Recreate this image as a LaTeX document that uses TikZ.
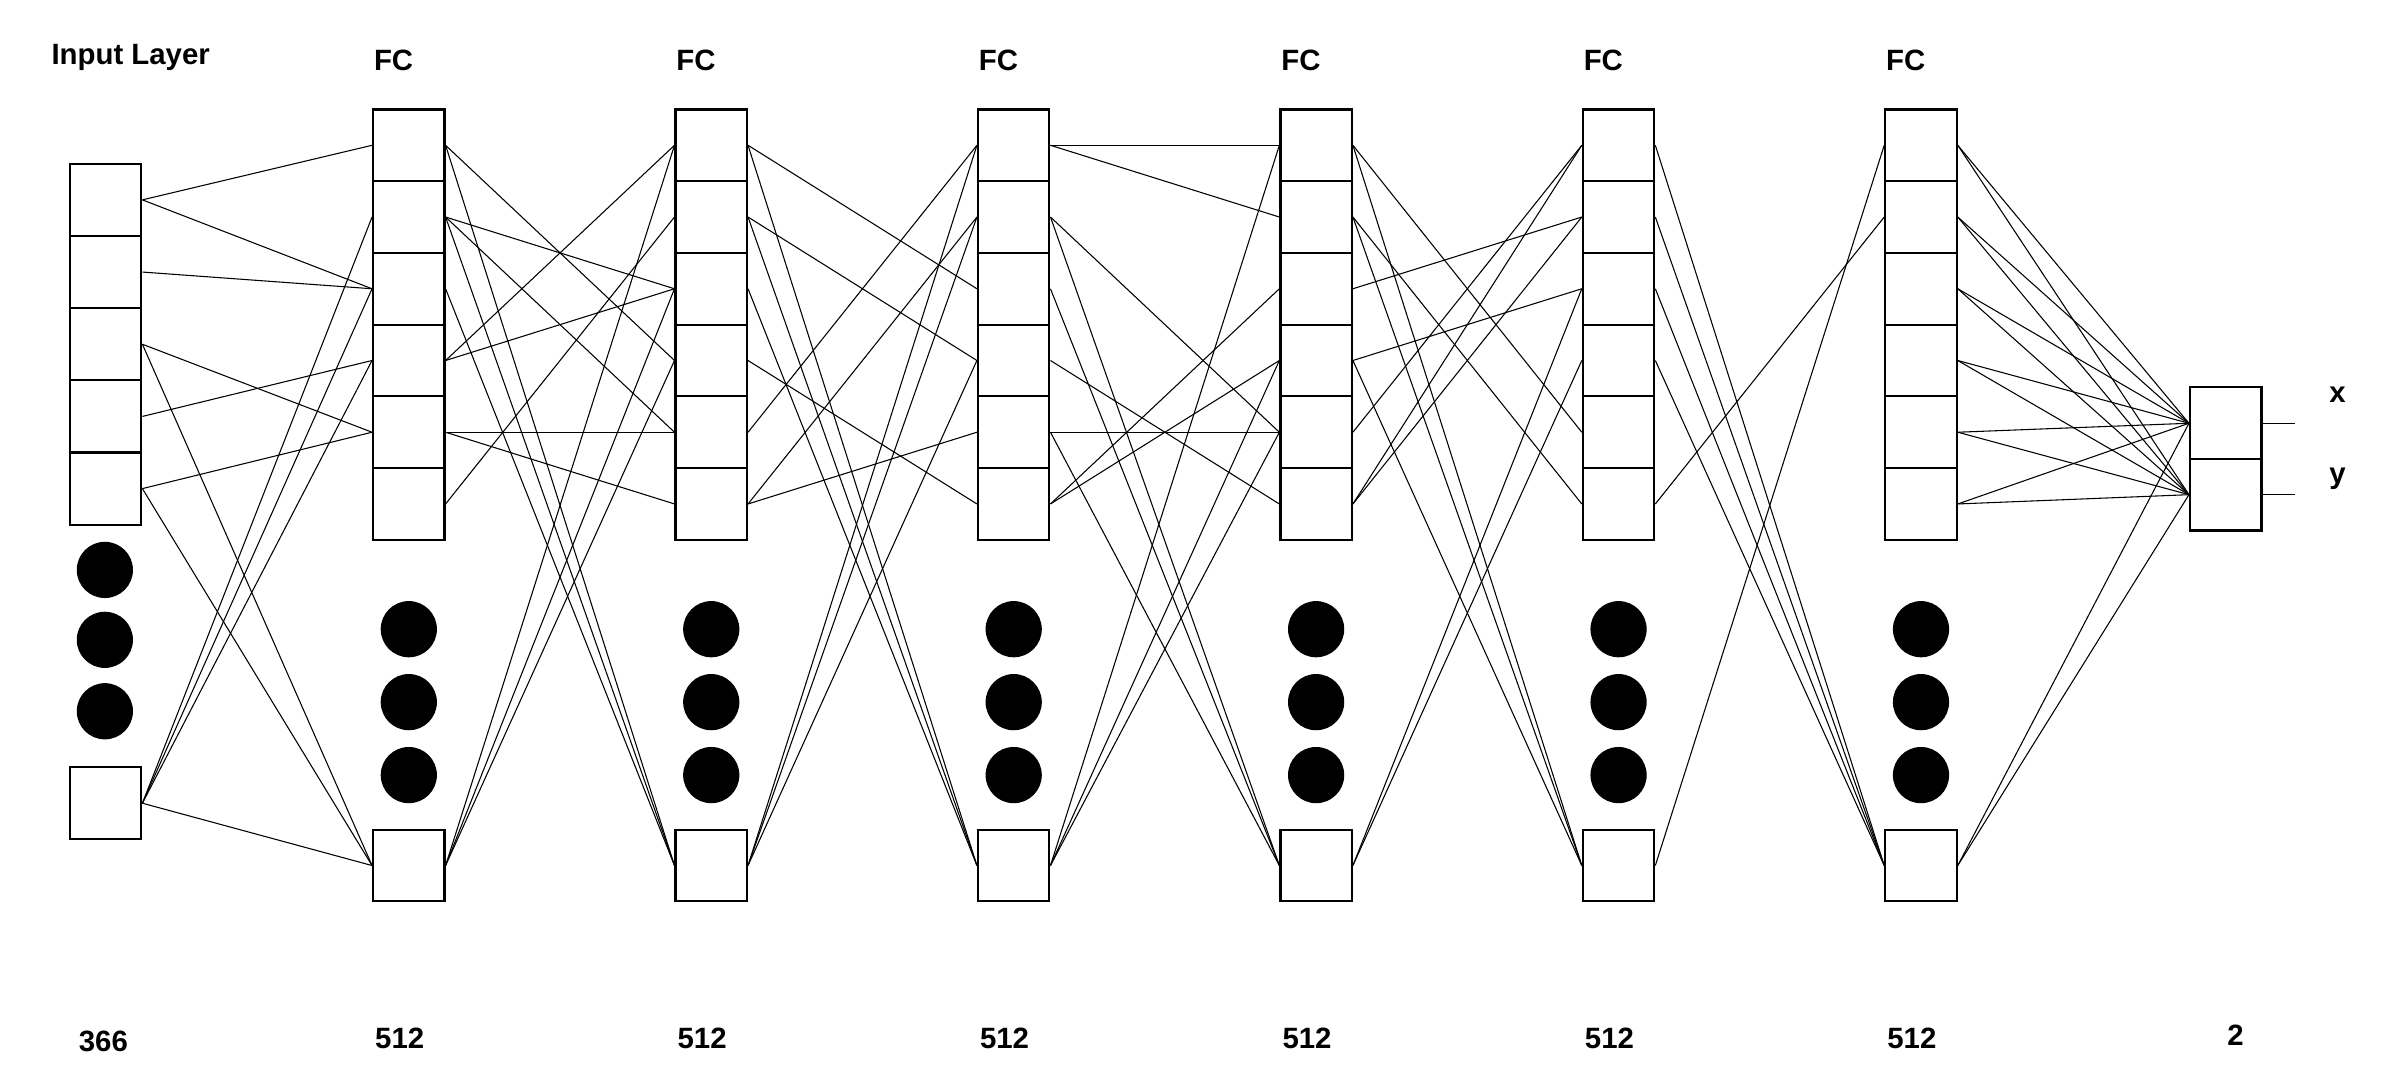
\documentclass[tikz,border=0pt]{standalone}
\usepackage{fontspec}
\setmainfont{Liberation Sans}
\begin{document}
\tikzset{
  cell/.style={draw, thick, minimum width=0.94cm, minimum height=0.944cm, inner sep=0pt},
  dot/.style={fill=black, circle, minimum size=0.74cm, inner sep=0pt},
  lbl/.style={font=\fontsize{11}{13}\selectfont\bfseries}
}
\begin{tikzpicture}[x=0.02cm,y=-0.02cm]
    \useasboundingbox (0,0) rectangle (1568,717);
    % input layer
    \foreach \i in {1,...,5}
    \node[cell, minimum height=0.95cm] (L0-\i) at (69.5,{84+47.5*\i}) {};
    \node[cell] (L0-b) at (69.5,528.5) {};
    \foreach \y [count=\k] in {375,421,468}
    \node[dot] (D0-\k) at (69,\y) {};
    % fully connected layers
    \foreach \c/\x in {1/269,2/468,3/667,4/866,5/1065,6/1264} {
    \foreach \i in {1,...,6}
    \node[cell] (L\c-\i) at (\x,{48.4+47.2*\i}) {};
    \node[cell] (L\c-b) at (\x,569.5) {};
    \foreach \y [count=\k] in {414,462,510}
    \node[dot] (D\c-\k) at (\x,\y) {};
    \node[lbl] (FC\c) at (\x-10,40) {FC};
    \node[lbl] (N\c) at (\x-6,683) {512};
    }
    % output layer
    \node[cell] (O-1) at (1464.5,278.5) {};
    \node[cell] (O-2) at (1464.5,325.5) {};
    \coordinate (X) at (1510,278.5);
    \coordinate (Y) at (1510,325.5);
    \draw (O-1.east) -- (X);
    \draw (O-2.east) -- (Y);
    \node[lbl] (xl) at (1538,260) {x};
    \node[lbl] (yl) at (1538,315) {y};
    \node[lbl] (IL) at (86,38) {Input Layer};
    \node[lbl] (N0) at (68,685) {366};
    \node[lbl] (N7) at (1471,681) {2};
    % connections
    \foreach \s/\t in {1/1,1/3,2/3,3/5,3/b,4/4,5/5,5/b,b/2,b/3,b/4,b/b}
    \draw (L0-\s.east) -- (L1-\t.west);
    \foreach \s/\t in {1/4,1/b,2/3,2/5,2/b,3/b,4/1,4/3,5/5,5/6,6/2,b/1,b/3,b/4}
    \draw (L1-\s.east) -- (L2-\t.west);
    \foreach \s/\t in {1/3,1/b,2/4,2/b,3/b,4/6,5/1,6/2,6/5,b/1,b/2,b/4}
    \draw (L2-\s.east) -- (L3-\t.west);
    \foreach \s/\t in {1/1,1/2,2/5,2/b,3/b,4/6,5/5,5/b,6/3,6/4,b/4,b/5,b/1}
    \draw (L3-\s.east) -- (L4-\t.west);
    \foreach \s/\t in {1/5,1/b,2/6,2/b,3/2,4/3,4/b,5/1,6/1,6/2,b/3,b/4}
    \draw (L4-\s.east) -- (L5-\t.west);
    \foreach \s/\t in {1/b,2/b,3/b,4/b,6/2,b/1}
    \draw (L5-\s.east) -- (L6-\t.west);
    \foreach \s in {1,...,6,b} {
    \draw (L6-\s.east) -- (O-1.west);
    \draw (L6-\s.east) -- (O-2.west);
    }
\end{tikzpicture}
\end{document}
